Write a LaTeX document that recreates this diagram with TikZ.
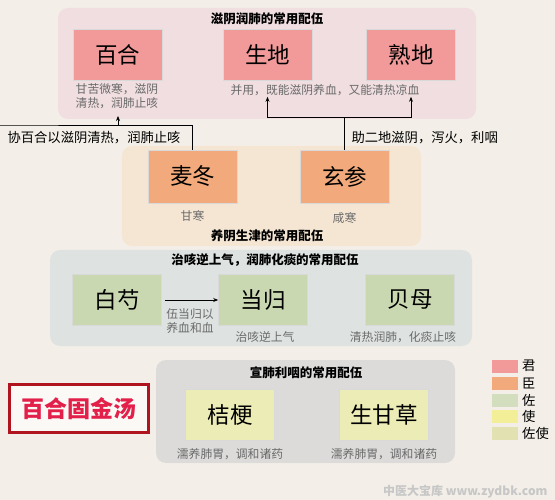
\documentclass[tikz,border=0pt]{standalone}
\usepackage{fontspec}
\setmainfont{Noto Sans CJK SC}
\usetikzlibrary{arrows.meta}
\definecolor{pagebg}{HTML}{F3EFE8}
\definecolor{junbg}{HTML}{F0DEE0}
\definecolor{chenbg}{HTML}{F5E6D4}
\definecolor{zuobg}{HTML}{DEE3E1}
\definecolor{shibg}{HTML}{DCDBDA}
\definecolor{juncolor}{HTML}{F29A9A}
\definecolor{chencolor}{HTML}{F2AA7C}
\definecolor{zuocolor}{HTML}{CAD8B2}
\definecolor{shicolor}{HTML}{F3EE98}
\definecolor{zuoshicolor}{HTML}{ECECB6}
\definecolor{notegray}{HTML}{6A6A6A}
\definecolor{titlered}{HTML}{E2204A}
\definecolor{framered}{HTML}{B0141E}

\tikzset{
  herb/.style = {draw = white!70!gray, line width = 0.6pt, rectangle, minimum width = 89pt, minimum height = 51pt, font = \fontsize{22.5}{22.5}\selectfont},
  group/.style = {rounded corners = 10pt},
  grouptitle/.style = {font = \fontsize{12.5}{14}\bfseries\selectfont},
  note/.style = {text = notegray, align = center, font = \fontsize{11.8}{13.5}\selectfont},
  label/.style = {font = \fontsize{13.3}{15}\selectfont},
  arr/.style = {-{Stealth[length = 5pt, width = 4pt]}, line width = 0.8pt},
  swatch/.style = {rectangle, minimum width = 26pt, minimum height = 13pt, inner sep = 0pt}
}

\begin{document}
\begin{tikzpicture}[x = 1pt, y = -1pt]

        \useasboundingbox [fill = pagebg] (0, 0) rectangle (555, 500);

        % group backgrounds
        \fill [group, junbg] (58, 8) rectangle (476, 119);
        \fill [group, chenbg] (122, 146) rectangle (421, 246);
        \fill [group, zuobg] (50, 250) rectangle (472, 346);
        \fill [group, shibg] (156, 360) rectangle (455, 463);

        % jun
        \node [grouptitle] (t1) at (267, 19) {滋阴润肺的常用配伍};
        \node [herb, fill = juncolor] (baihe) at (117.5, 55) {百合};
        \node [herb, fill = juncolor] (shengdi) at (267.5, 55) {生地};
        \node [herb, fill = juncolor] (shudi) at (411, 55) {熟地};
        \node [note, inner sep = 1pt] (baihenote) at (117, 96) {甘苦微寒，滋阴\\清热，润肺止咳};
        \node [note, inner sep = 1pt] (dinote) at (325, 90) {并用，既能滋阴养血，又能清热凉血};

        % chen
        \node [herb, fill = chencolor, minimum height = 53pt] (maidong) at (192.5, 176.5) {麦冬};
        \node [herb, fill = chencolor, minimum height = 53pt] (xuanshen) at (344.5, 176.5) {玄参};
        \node [note] (maidongnote) at (192.5, 216) {甘寒};
        \node [note] (xuanshennote) at (344.5, 218) {咸寒};
        \node [grouptitle] (t2) at (267, 236) {养阴生津的常用配伍};

        % chen -> jun
        \coordinate (baihetip) at (118, 116);
        \draw [arr] (maidong.north) |- (0, 125) -| (baihetip);
        \draw [line width = 0.8pt] (xuanshen.north) -- (xuanshen.north |- 0, 117) coordinate (fork);
        \draw [arr] (fork) -| (shengdi.south |- dinote.south);
        \draw [arr] (fork) -| (shudi.south |- dinote.south);
        \node [label, anchor = east] (l1) at (184, 138) {协百合以滋阴清热，润肺止咳};
        \node [label, anchor = west] (l2) at (348, 138) {助二地滋阴，泻火，利咽};

        % zuo
        \node [grouptitle] (t3) at (265, 260) {治咳逆上气，润肺化痰的常用配伍};
        \node [herb, fill = zuocolor] (baishao) at (117, 300) {白芍};
        \node [herb, fill = zuocolor] (danggui) at (263, 300) {当归};
        \node [herb, fill = zuocolor] (beimu) at (410, 300) {贝母};
        \draw [arr, shorten <= 3pt] (baishao.east) -- (danggui.west);
        \node [note] (baishaonote) at (190, 321) {伍当归以\\养血和血};
        \node [note] (dangguinote) at (265, 337) {治咳逆上气};
        \node [note] (beimunote) at (403, 337) {清热润肺，化痰止咳};

        % shi
        \node [grouptitle] (t4) at (306, 373) {宣肺利咽的常用配伍};
        \node [herb, fill = zuoshicolor] (jiegeng) at (230, 415) {桔梗};
        \node [herb, fill = zuoshicolor] (gancao) at (384, 415) {生甘草};
        \node [note] (jiegengnote) at (230, 454) {濡养肺胃，调和诸药};
        \node [note] (gancaonote) at (384, 454) {濡养肺胃，调和诸药};

        % formula name
        \node [draw = framered, line width = 2.6pt, fill = white!60!pagebg, minimum width = 139pt, minimum height = 48pt, text = titlered, font = \fontsize{23}{23}\bfseries\selectfont] (fangming) at (79, 408.5) {百合固金汤};

        % legend
        \node [swatch, fill = juncolor] (s1) at (505, 366) {};
        \node [swatch, fill = chencolor] (s2) at (505, 383) {};
        \node [swatch, fill = zuocolor!85!white] (s3) at (505, 400) {};
        \node [swatch, fill = shicolor] (s4) at (505, 416) {};
        \node [swatch, fill = zuoshicolor!90!gray] (s5) at (505, 433) {};
        \node [label, anchor = west, inner sep = 0pt] at (522, 366) {君};
        \node [label, anchor = west, inner sep = 0pt] at (522, 383) {臣};
        \node [label, anchor = west, inner sep = 0pt] at (522, 400) {佐};
        \node [label, anchor = west, inner sep = 0pt] at (522, 416) {使};
        \node [label, anchor = west, inner sep = 0pt] at (522, 433) {佐使};

        % watermark
        \node [text = black!22, font = \fontsize{12}{12}\bfseries\selectfont, anchor = east] (mark) at (551, 492) {中医大宝库 www.zydbk.com};

\end{tikzpicture}
\end{document}
